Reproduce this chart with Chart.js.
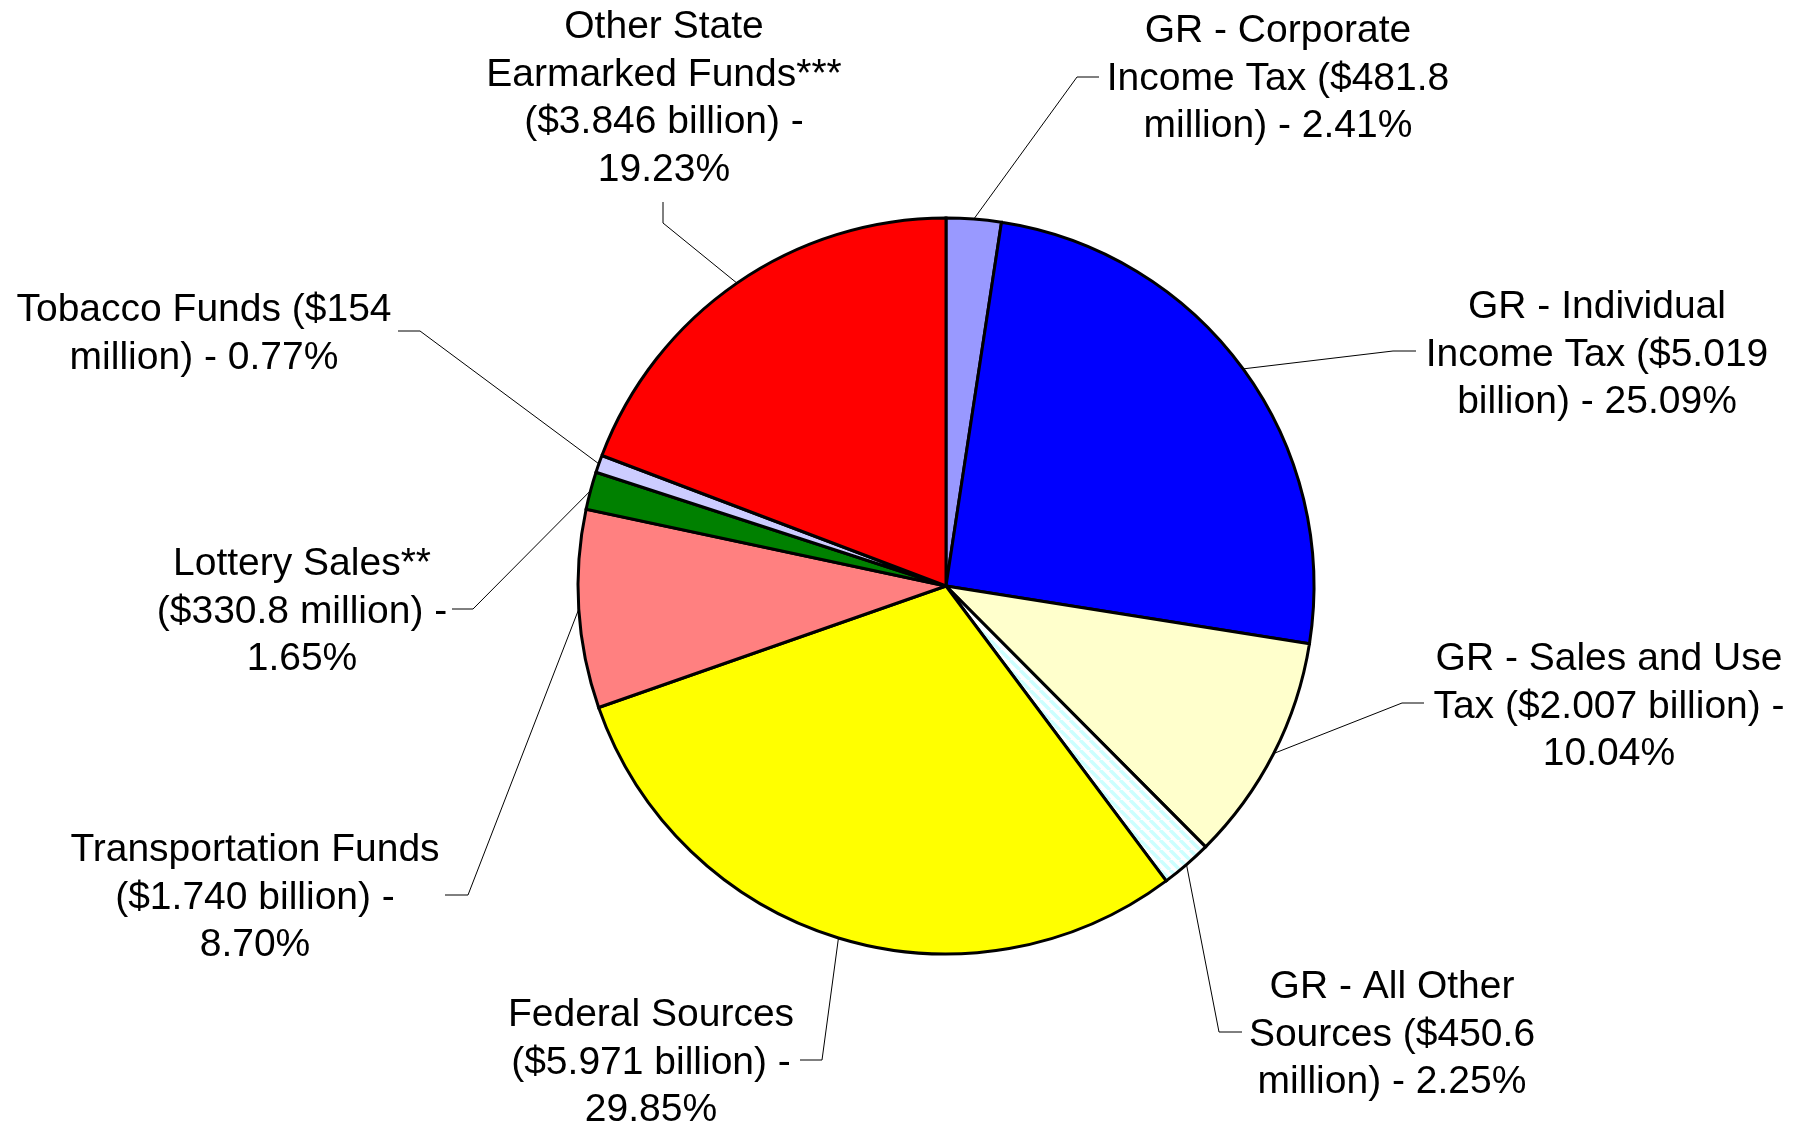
<!DOCTYPE html>
<html>
<head>
<meta charset="utf-8">
<script src="https://cdn.jsdelivr.net/npm/chart.js@4/dist/chart.umd.min.js"></script>
<style>
  body{margin:0;background:#fff;}
  #pie{display:block;}
</style>
</head>
<body>
<canvas id="pie" width="1802" height="1125"></canvas>
<script>
// slices, clockwise from 12 o'clock
var categories=["GR - Corporate Income Tax", "GR - Individual Income Tax", "GR - Sales and Use Tax", "GR - All Other Sources", "Federal Sources", "Transportation Funds", "Lottery Sales**", "Tobacco Funds", "Other State Earmarked Funds***"];
var amounts=[481.8, 5019, 2007, 450.6, 5971, 1740, 330.8, 154, 3846]; // $ million
var amountText=["$481.8 million", "$5.019 billion", "$2.007 billion", "$450.6 million", "$5.971 billion", "$1.740 billion", "$330.8 million", "$154 million", "$3.846 billion"];
var percentText=["2.41%", "25.09%", "10.04%", "2.25%", "29.85%", "8.70%", "1.65%", "0.77%", "19.23%"];
var colors=["#9999FF", "#0000FF", "#FFFFCC", "hatch", "#FFFF00", "#FF8080", "#008000", "#CCCCFF", "#FF0000"];

// label text as it wraps in the picture
var labelLines=[
  ["GR - Corporate", "Income Tax ($481.8", "million) - 2.41%"],
  ["GR - Individual", "Income Tax ($5.019", "billion) - 25.09%"],
  ["GR - Sales and Use", "Tax ($2.007 billion) -", "10.04%"],
  ["GR - All Other", "Sources ($450.6", "million) - 2.25%"],
  ["Federal Sources", "($5.971 billion) -", "29.85%"],
  ["Transportation Funds", "($1.740 billion) -", "8.70%"],
  ["Lottery Sales**", "($330.8 million) -", "1.65%"],
  ["Tobacco Funds ($154", "million) - 0.77%"],
  ["Other State", "Earmarked Funds***", "($3.846 billion) -", "19.23%"]
];

// layout: label centre x, first line y; leader elbow and end point
var labelPos=[[1278,31],[1597,307],[1609,659],[1392,987],[651,1015],[255,850],[302,564],[204,310],[664,27]];
var leaders=[
  [[1077,77],[1099,77]],
  [[1393,351],[1416,351]],
  [[1402,703],[1424,703]],
  [[1219,1032],[1242,1032]],
  [[822,1060],[800,1060]],
  [[468,895],[445,895]],
  [[473,609],[452,609]],
  [[420,331],[398,331]],
  [[663,223],[663,202]]
];
var lineH=47.8;

function hatchPattern(){
  var c=document.createElement("canvas");
  c.width=10;
  c.height=10;
  var g=c.getContext("2d");
  g.fillStyle="#ffffff";
  g.fillRect(0,0,10,10);
  g.strokeStyle="#CCFFFF";
  g.lineWidth=3.6;
  g.beginPath();
  for(var k=-10;k<=20;k+=10){
    g.moveTo(k,0);
    g.lineTo(k+10,10);
  }
  g.stroke();
  return g.createPattern(c,"repeat");
}

var labelsPlugin={
  id: "leaderLabels",
  afterDatasetsDraw: function(chart){
    var ctx=chart.ctx;
    var arcs=chart.getDatasetMeta(0).data;
    ctx.save();
    ctx.strokeStyle="#000";
    ctx.lineWidth=1;
    arcs.forEach(function(arc, i){
      var p=arc.getProps(["x","y","startAngle","endAngle","outerRadius"], true);
      var mid=(p.startAngle+p.endAngle)/2;
      var ex=p.x+Math.cos(mid)*p.outerRadius;
      var ey=p.y+Math.sin(mid)*p.outerRadius;
      ctx.beginPath();
      ctx.moveTo(ex,ey);
      ctx.lineTo(leaders[i][0][0],leaders[i][0][1]);
      ctx.lineTo(leaders[i][1][0],leaders[i][1][1]);
      ctx.stroke();
    });
    ctx.fillStyle="#000";
    ctx.font="39px 'Liberation Sans', Arial, sans-serif";
    ctx.textAlign="center";
    ctx.textBaseline="middle";
    labelLines.forEach(function(lines, i){
      lines.forEach(function(t, j){
        ctx.fillText(t, labelPos[i][0], labelPos[i][1]+j*lineH);
      });
    });
    ctx.restore();
  }
};

var pattern=hatchPattern();
var fills=colors.map(function(c){ return c=="hatch" ? pattern : c; });

var ctx1=document.getElementById("pie").getContext("2d");
var pieChart=new Chart(ctx1, {
  type: "pie",
  data: {
    labels: categories,
    datasets: [{
      data: amounts,
      backgroundColor: fills,
      borderColor: "#000",
      borderWidth: 3,
      hoverOffset: 0,
      borderJoinStyle: "miter"
    }]
  },
  options: {
    responsive: false,
    animation: false,
    layout: {padding: {left: 576.5, right: 486.5, top: 216.5, bottom: 169.5}},
    plugins: {
      legend: {display: false},
      tooltip: {enabled: false}
    }
  },
  plugins: [labelsPlugin]
});
</script>
</body>
</html>
